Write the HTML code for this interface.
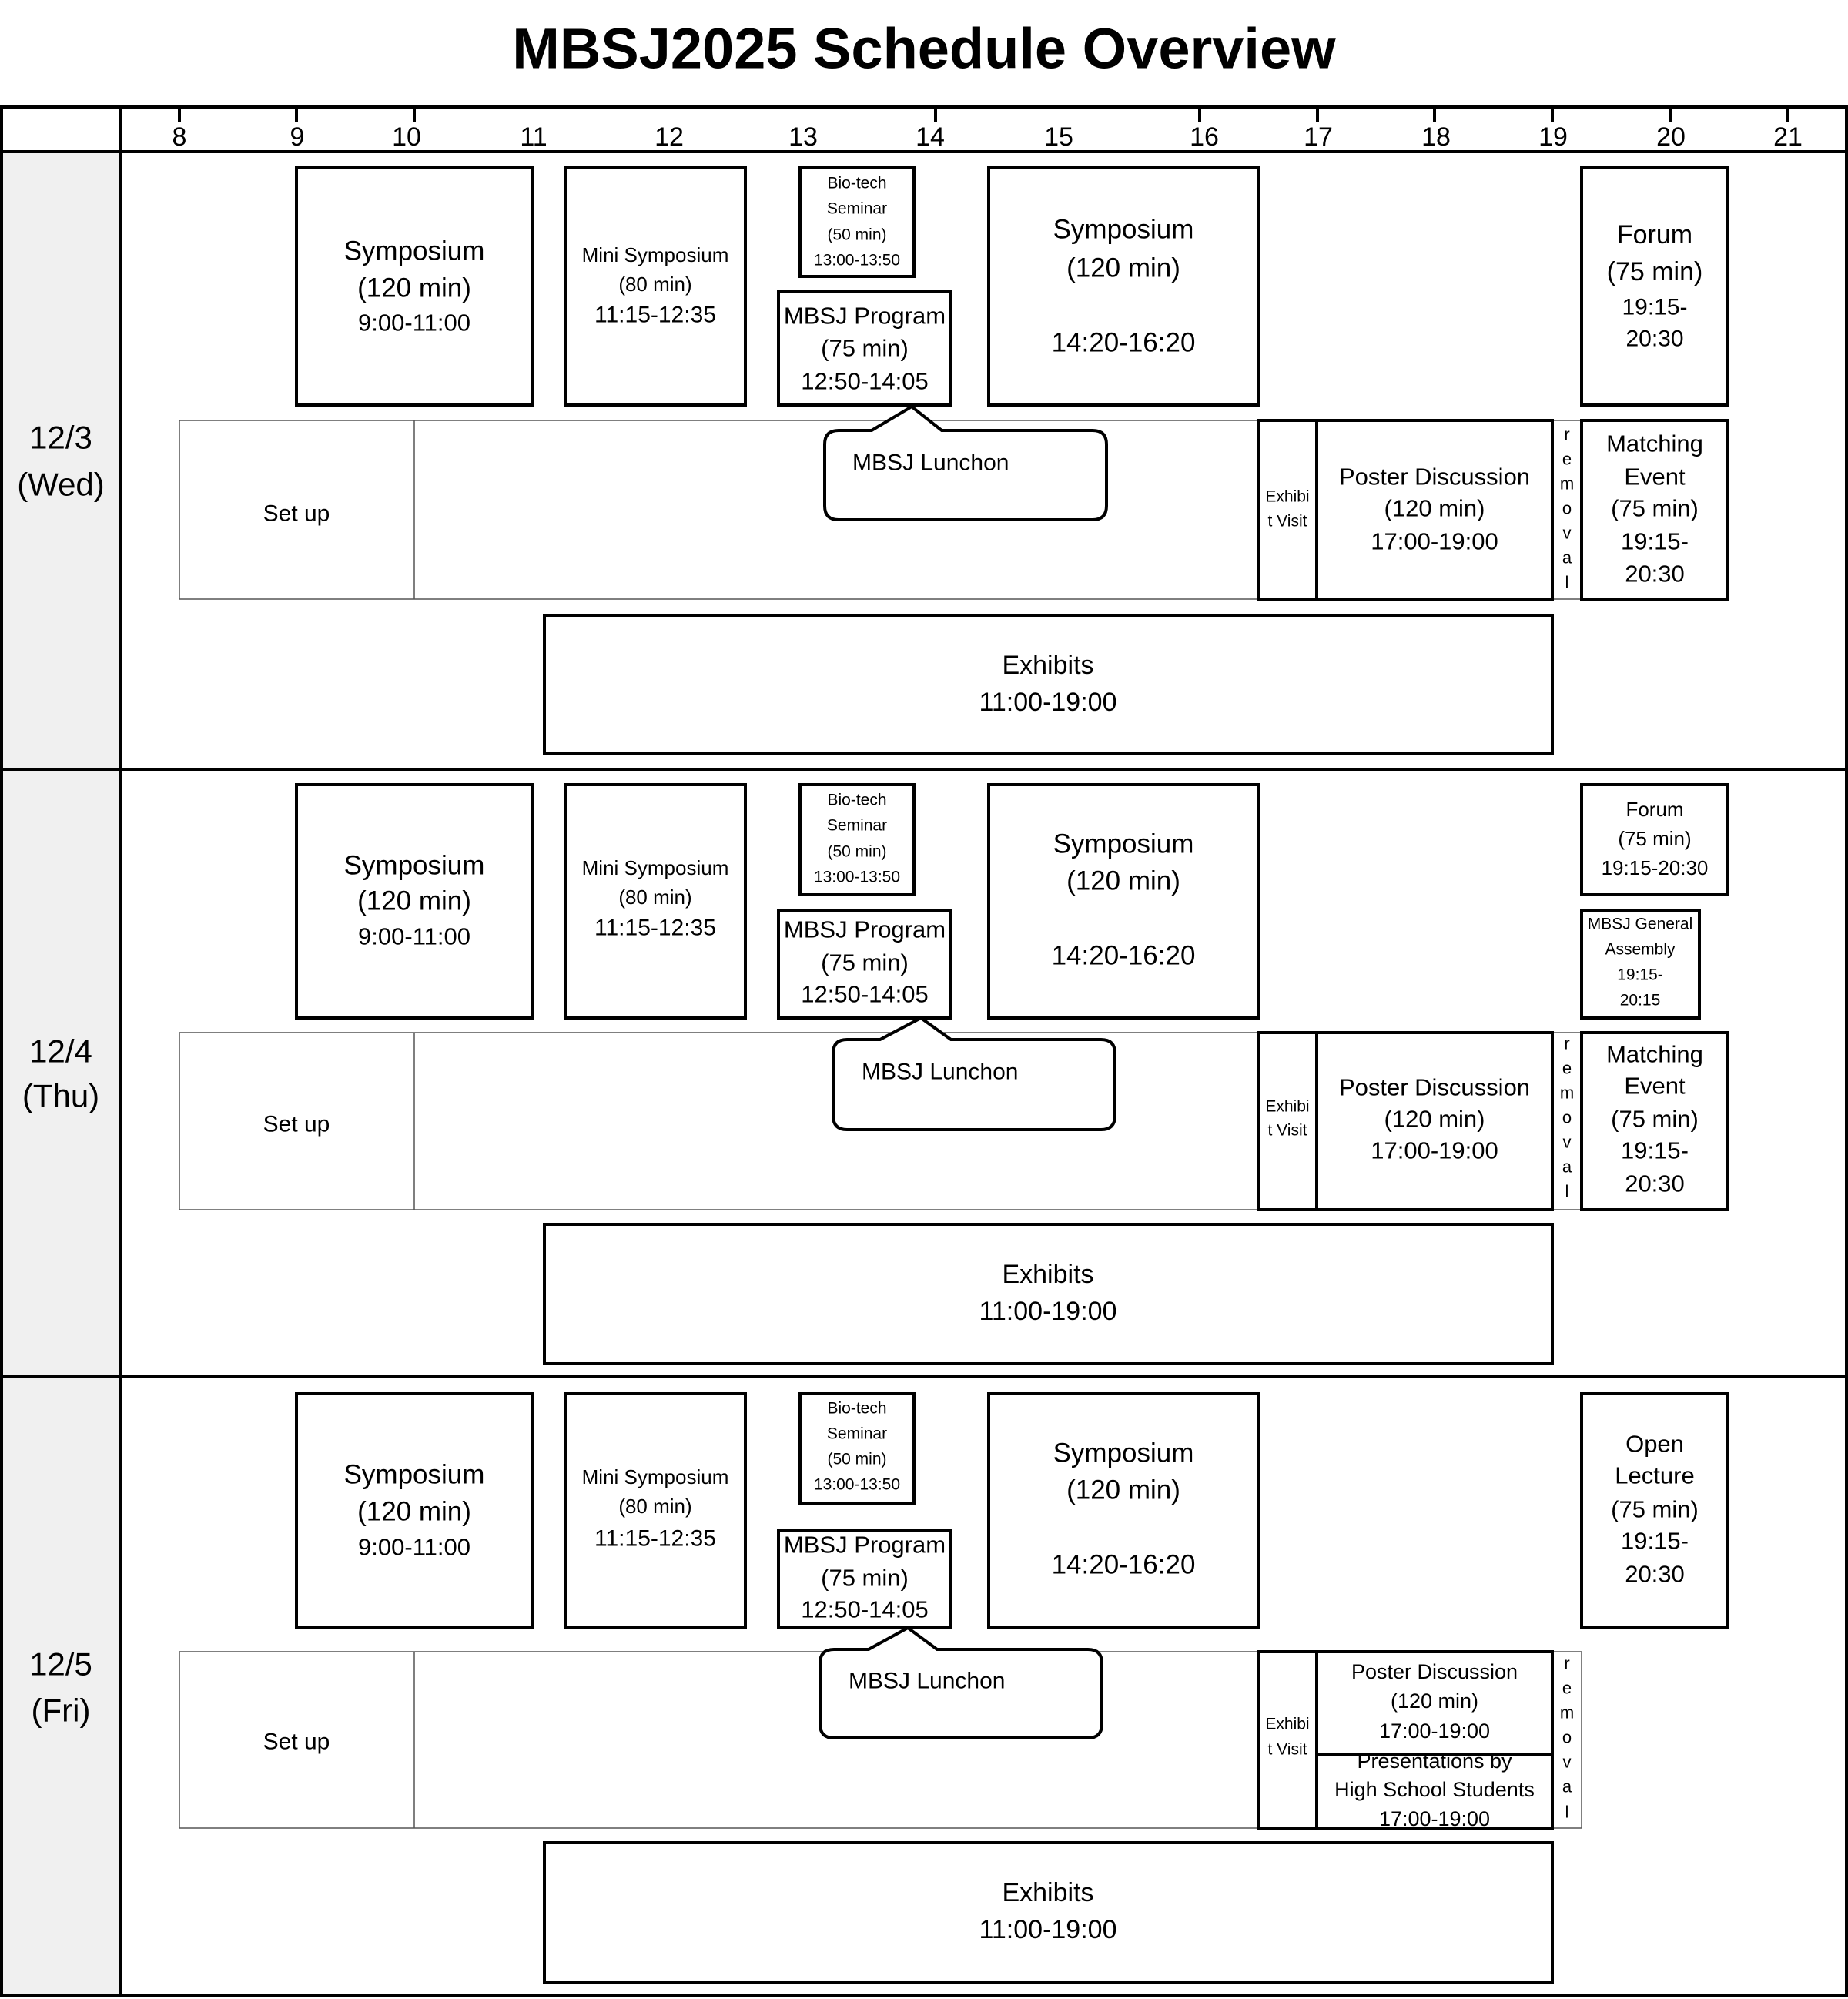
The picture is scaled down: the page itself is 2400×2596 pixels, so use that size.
<!DOCTYPE html>
<html><head><meta charset="utf-8"><style>
html,body{margin:0;padding:0;background:#fff}
svg{display:block}
text{font-family:"Liberation Sans",sans-serif;fill:#000;text-anchor:middle;dominant-baseline:central}
.k{fill:#fff;stroke:#000;stroke-width:4}
.g{fill:#fff;stroke:#555;stroke-width:1.5}
</style></head><body>
<svg width="2400" height="2596" viewBox="0 0 2400 2596" xmlns="http://www.w3.org/2000/svg">
<text x="1200" y="63" font-size="74" font-weight="bold">MBSJ2025 Schedule Overview</text>
<rect x="4" y="197" width="153" height="2395" fill="#f0f0f0"/>
<rect x="2" y="139" width="2396" height="2453" fill="none" stroke="#000" stroke-width="4"/>
<line x1="2" y1="197" x2="2398" y2="197" stroke="#000" stroke-width="4"/>
<line x1="157" y1="139" x2="157" y2="2594" stroke="#000" stroke-width="4"/>
<line x1="2" y1="999" x2="2398" y2="999" stroke="#000" stroke-width="4"/>
<line x1="2" y1="1788" x2="2398" y2="1788" stroke="#000" stroke-width="4"/>
<g stroke="#000" stroke-width="4">
<line x1="233" y1="139" x2="233" y2="158"/><line x1="385" y1="139" x2="385" y2="158"/><line x1="538" y1="139" x2="538" y2="158"/>
<line x1="1215" y1="139" x2="1215" y2="158"/><line x1="1558" y1="139" x2="1558" y2="158"/><line x1="1711" y1="139" x2="1711" y2="158"/>
<line x1="1863" y1="139" x2="1863" y2="158"/><line x1="2016" y1="139" x2="2016" y2="158"/><line x1="2169" y1="139" x2="2169" y2="158"/><line x1="2322" y1="139" x2="2322" y2="158"/>
</g>
<g font-size="34">
<text x="233" y="178">8</text><text x="386" y="178">9</text><text x="528" y="178">10</text><text x="693" y="178">11</text><text x="869" y="178">12</text><text x="1043" y="178">13</text><text x="1208" y="178">14</text><text x="1375" y="178">15</text><text x="1564" y="178">16</text><text x="1712" y="178">17</text><text x="1865" y="178">18</text><text x="2017" y="178">19</text><text x="2170" y="178">20</text><text x="2322" y="178">21</text>
</g>
<g font-size="42">
<text x="79" y="568">12/3</text><text x="79" y="629">(Wed)</text>
<text x="79" y="1365">12/4</text><text x="79" y="1423">(Thu)</text>
<text x="79" y="2161">12/5</text><text x="79" y="2221">(Fri)</text>
</g>

<!-- ROW 1 -->
<rect class="k" x="385" y="217" width="307" height="309"/>
<rect class="k" x="735" y="217" width="233" height="309"/>
<rect class="k" x="1039" y="217" width="148" height="142"/>
<rect class="k" x="1011" y="379" width="224" height="147"/>
<rect class="k" x="1284" y="217" width="350" height="309"/>
<rect class="k" x="2054" y="217" width="190" height="309"/>
<rect class="g" x="233" y="546" width="1821" height="232"/>
<line x1="538" y1="546" x2="538" y2="778" stroke="#555" stroke-width="1.5"/>
<path class="k" stroke-width="3" d="M1089,559 L1132,559 L1184,528 L1223,559 L1419,559 Q1437,559 1437,577 L1437,657 Q1437,675 1419,675 L1089,675 Q1071,675 1071,657 L1071,577 Q1071,559 1089,559 Z"/>
<rect class="k" x="1634" y="546" width="76" height="232"/>
<rect class="k" x="1710" y="546" width="306" height="232"/>
<rect class="k" x="2054" y="546" width="190" height="232"/>
<rect class="k" x="707" y="799" width="1309" height="179"/>
<g font-size="35"><text x="538" y="326">Symposium</text><text x="538" y="374">(120 min)</text></g>
<text x="538" y="419" font-size="31">9:00-11:00</text>
<g font-size="26"><text x="851" y="331">Mini Symposium</text><text x="851" y="369">(80 min)</text></g>
<text x="851" y="409" font-size="30">11:15-12:35</text>
<g font-size="21"><text x="1113" y="238">Bio-tech</text><text x="1113" y="271">Seminar</text><text x="1113" y="305">(50 min)</text><text x="1113" y="338">13:00-13:50</text></g>
<g font-size="31"><text x="1123" y="410">MBSJ Program</text><text x="1123" y="452">(75 min)</text><text x="1123" y="495">12:50-14:05</text></g>
<g font-size="35"><text x="1459" y="298">Symposium</text><text x="1459" y="348">(120 min)</text><text x="1459" y="445">14:20-16:20</text></g>
<g font-size="34"><text x="2149" y="305">Forum</text><text x="2149" y="353">(75 min)</text></g>
<g font-size="30"><text x="2149" y="399">19:15-</text><text x="2149" y="440">20:30</text></g>
<text x="385" y="667" font-size="30">Set up</text>
<text x="1107" y="601" font-size="30" style="text-anchor:start">MBSJ Lunchon</text>
<g font-size="21"><text x="1672" y="645">Exhibi</text><text x="1672" y="677">t Visit</text></g>
<g font-size="31"><text x="1863" y="619">Poster Discussion</text><text x="1863" y="660">(120 min)</text><text x="1863" y="703">17:00-19:00</text></g>
<g font-size="22"><text x="2035" y="564">r</text><text x="2035" y="596">e</text><text x="2035" y="628">m</text><text x="2035" y="660">o</text><text x="2035" y="692">v</text><text x="2035" y="724">a</text><text x="2035" y="756">l</text></g>
<g font-size="31"><text x="2149" y="576">Matching</text><text x="2149" y="619">Event</text><text x="2149" y="660">(75 min)</text><text x="2149" y="703">19:15-</text><text x="2149" y="745">20:30</text></g>
<g font-size="34"><text x="1361" y="864">Exhibits</text><text x="1361" y="912">11:00-19:00</text></g>

<!-- ROW 2 -->
<rect class="k" x="385" y="1019" width="307" height="303"/>
<rect class="k" x="735" y="1019" width="233" height="303"/>
<rect class="k" x="1039" y="1019" width="148" height="143"/>
<rect class="k" x="1011" y="1182" width="224" height="140"/>
<rect class="k" x="1284" y="1019" width="350" height="303"/>
<rect class="k" x="2054" y="1019" width="190" height="143"/>
<rect class="k" x="2054" y="1182" width="153" height="140"/>
<rect class="g" x="233" y="1341" width="1821" height="230"/>
<line x1="538" y1="1341" x2="538" y2="1571" stroke="#555" stroke-width="1.5"/>
<path class="k" stroke-width="3" d="M1100,1350 L1143,1350 L1196,1322 L1235,1350 L1430,1350 Q1448,1350 1448,1368 L1448,1449 Q1448,1467 1430,1467 L1100,1467 Q1082,1467 1082,1449 L1082,1368 Q1082,1350 1100,1350 Z"/>
<rect class="k" x="1634" y="1341" width="76" height="230"/>
<rect class="k" x="1710" y="1341" width="306" height="230"/>
<rect class="k" x="2054" y="1341" width="190" height="230"/>
<rect class="k" x="707" y="1590" width="1309" height="181"/>
<g font-size="35"><text x="538" y="1124">Symposium</text><text x="538" y="1170">(120 min)</text></g>
<text x="538" y="1216" font-size="31">9:00-11:00</text>
<g font-size="26"><text x="851" y="1127">Mini Symposium</text><text x="851" y="1165">(80 min)</text></g>
<text x="851" y="1205" font-size="30">11:15-12:35</text>
<g font-size="21"><text x="1113" y="1039">Bio-tech</text><text x="1113" y="1072">Seminar</text><text x="1113" y="1106">(50 min)</text><text x="1113" y="1139">13:00-13:50</text></g>
<g font-size="31"><text x="1123" y="1207">MBSJ Program</text><text x="1123" y="1250">(75 min)</text><text x="1123" y="1291">12:50-14:05</text></g>
<g font-size="35"><text x="1459" y="1096">Symposium</text><text x="1459" y="1144">(120 min)</text><text x="1459" y="1241">14:20-16:20</text></g>
<g font-size="26"><text x="2149" y="1051">Forum</text><text x="2149" y="1089">(75 min)</text><text x="2149" y="1127">19:15-20:30</text></g>
<g font-size="21"><text x="2130" y="1200">MBSJ General</text><text x="2130" y="1233">Assembly</text><text x="2130" y="1266">19:15-</text><text x="2130" y="1299">20:15</text></g>
<text x="385" y="1460" font-size="30">Set up</text>
<text x="1119" y="1392" font-size="30" style="text-anchor:start">MBSJ Lunchon</text>
<g font-size="21"><text x="1672" y="1437">Exhibi</text><text x="1672" y="1468">t Visit</text></g>
<g font-size="31"><text x="1863" y="1412">Poster Discussion</text><text x="1863" y="1453">(120 min)</text><text x="1863" y="1494">17:00-19:00</text></g>
<g font-size="22"><text x="2035" y="1355">r</text><text x="2035" y="1387">e</text><text x="2035" y="1419">m</text><text x="2035" y="1451">o</text><text x="2035" y="1483">v</text><text x="2035" y="1515">a</text><text x="2035" y="1547">l</text></g>
<g font-size="31"><text x="2149" y="1369">Matching</text><text x="2149" y="1410">Event</text><text x="2149" y="1453">(75 min)</text><text x="2149" y="1494">19:15-</text><text x="2149" y="1537">20:30</text></g>
<g font-size="34"><text x="1361" y="1655">Exhibits</text><text x="1361" y="1703">11:00-19:00</text></g>

<!-- ROW 3 -->
<rect class="k" x="385" y="1810" width="307" height="304"/>
<rect class="k" x="735" y="1810" width="233" height="304"/>
<rect class="k" x="1039" y="1810" width="148" height="142"/>
<rect class="k" x="1011" y="1987" width="224" height="127"/>
<rect class="k" x="1284" y="1810" width="350" height="304"/>
<rect class="k" x="2054" y="1810" width="190" height="304"/>
<rect class="g" x="233" y="2145" width="1821" height="229"/>
<line x1="538" y1="2145" x2="538" y2="2374" stroke="#555" stroke-width="1.5"/>
<path class="k" stroke-width="3" d="M1083,2142 L1128,2142 L1179,2114 L1217,2142 L1413,2142 Q1431,2142 1431,2160 L1431,2239 Q1431,2257 1413,2257 L1083,2257 Q1065,2257 1065,2239 L1065,2160 Q1065,2142 1083,2142 Z"/>
<rect class="k" x="1634" y="2145" width="76" height="229"/>
<rect x="1710" y="2145" width="306" height="229" fill="#fff"/>
<g font-size="35"><text x="538" y="1915">Symposium</text><text x="538" y="1963">(120 min)</text></g>
<text x="538" y="2009" font-size="31">9:00-11:00</text>
<g font-size="26"><text x="851" y="1918">Mini Symposium</text><text x="851" y="1956">(80 min)</text></g>
<text x="851" y="1998" font-size="30">11:15-12:35</text>
<g font-size="21"><text x="1113" y="1829">Bio-tech</text><text x="1113" y="1862">Seminar</text><text x="1113" y="1895">(50 min)</text><text x="1113" y="1928">13:00-13:50</text></g>
<g font-size="31"><text x="1123" y="2006">MBSJ Program</text><text x="1123" y="2049">(75 min)</text><text x="1123" y="2090">12:50-14:05</text></g>
<g font-size="35"><text x="1459" y="1887">Symposium</text><text x="1459" y="1935">(120 min)</text><text x="1459" y="2032">14:20-16:20</text></g>
<g font-size="31"><text x="2149" y="1875">Open</text><text x="2149" y="1916">Lecture</text><text x="2149" y="1960">(75 min)</text><text x="2149" y="2001">19:15-</text><text x="2149" y="2044">20:30</text></g>
<text x="385" y="2262" font-size="30">Set up</text>
<text x="1102" y="2183" font-size="30" style="text-anchor:start">MBSJ Lunchon</text>
<g font-size="21"><text x="1672" y="2239">Exhibi</text><text x="1672" y="2272">t Visit</text></g>
<g font-size="27"><text x="1863" y="2171">Poster Discussion</text><text x="1863" y="2209">(120 min)</text><text x="1863" y="2248">17:00-19:00</text>
<text x="1863" y="2287">Presentations by</text><text x="1863" y="2324">High School Students</text><text x="1863" y="2362">17:00-19:00</text></g>
<rect x="1710" y="2145" width="306" height="229" fill="none" stroke="#000" stroke-width="4"/>
<rect x="1710" y="2145" width="306" height="134" fill="none" stroke="#000" stroke-width="4"/>
<g font-size="22"><text x="2035" y="2160">r</text><text x="2035" y="2192">e</text><text x="2035" y="2224">m</text><text x="2035" y="2256">o</text><text x="2035" y="2288">v</text><text x="2035" y="2320">a</text><text x="2035" y="2353">l</text></g>
<rect class="k" x="707" y="2393" width="1309" height="182"/>
<g font-size="34"><text x="1361" y="2458">Exhibits</text><text x="1361" y="2506">11:00-19:00</text></g>
</svg>
</body></html>
